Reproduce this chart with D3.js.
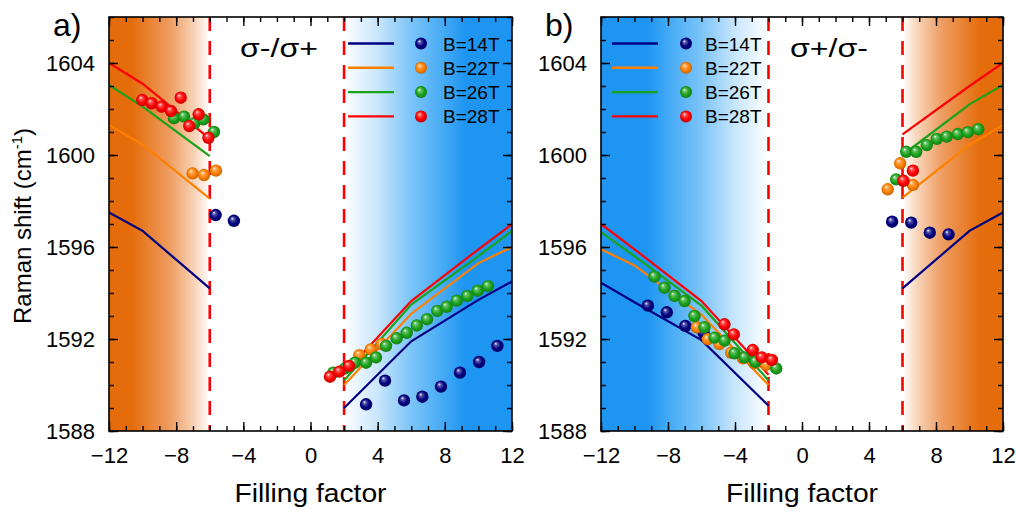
<!DOCTYPE html>
<html><head><meta charset="utf-8">
<script src="https://cdn.jsdelivr.net/npm/d3@7"></script>
<style>body{margin:0;background:#fff}svg{display:block}text{font-family:Arial,"Liberation Sans",sans-serif;fill:#000}</style>
</head><body>
<svg id="c" width="1017" height="513"></svg>
<script>
// ---------- data ----------
const series = ["B=14T","B=22T","B=26T","B=28T"];
const seriesColors = ["#000080","#FF8000","#1AA21A","#FF0000"];
const fillTicks = [-12,-8,-4,0,4,8,12];
const ramanTicks = [1588,1592,1596,1600,1604];

// panel a theory lines
const aNegX = [-12,-10,-6];
const aPosX = [2,6,10,12];
const aNeg14 = [1597.5,1596.7,1594.2];
const aNeg22 = [1601.3,1600.45,1598.1];
const aNeg26 = [1603.05,1602.1,1599.95];
const aNeg28 = [1604.0,1603.1,1600.7];
const aPos14 = [1589.0,1591.9,1593.7,1594.5];
const aPos22 = [1590.0,1593.1,1595.3,1596.0];
const aPos26 = [1590.2,1593.5,1595.6,1596.7];
const aPos28 = [1590.5,1593.65,1595.9,1597.0];

// panel b theory lines
const bNegX = [-12,-10,-6,-2];
const bPosX = [6,10,12];
const bNeg14 = [1594.45,1593.6,1591.95,1589.1];
const bNeg22 = [1595.9,1595.2,1593.05,1590.0];
const bNeg26 = [1596.65,1595.6,1593.45,1590.2];
const bNeg28 = [1597.0,1595.9,1593.65,1590.45];
const bPos14 = [1594.2,1596.7,1597.5];
const bPos22 = [1598.15,1600.45,1601.3];
const bPos26 = [1600.0,1602.2,1603.05];
const bPos28 = [1600.9,1603.0,1604.0];

// panel a measured points
const aFill14 = [-5.65,-4.56,3.31,4.44,5.57,6.66,7.77,8.9,10.04,11.13];
const aShift14 = [1597.39,1597.14,1589.16,1590.19,1589.33,1589.49,1589.93,1590.54,1591.0,1591.7];
const aFill22 = [-7.02,-6.34,-5.63,2.91,3.59,4.24];
const aShift22 = [1599.2,1599.13,1599.32,1591.3,1591.55,1591.78];
const aFill26 = [-8.13,-7.53,-6.92,-6.38,-5.75,1.36,2.06,2.65,3.31,3.9,4.5,5.13,5.73,6.33,6.94,7.55,8.11,8.71,9.34,9.96,10.57];
const aShift26 = [1601.6,1601.67,1601.38,1601.55,1601.0,1590.54,1590.72,1590.97,1590.97,1591.2,1591.7,1592.03,1592.27,1592.59,1592.86,1593.22,1593.4,1593.67,1593.87,1594.1,1594.3];
const aFill28 = [-10.02,-9.46,-8.86,-8.31,-7.73,-7.22,-6.66,-6.08,1.16,1.72,2.29];
const aShift28 = [1602.39,1602.25,1602.1,1601.91,1602.49,1601.26,1601.77,1600.75,1590.36,1590.58,1590.83];

// panel b measured points
const bFill14 = [-9.2,-8.07,-6.96,-5.88,5.38,6.52,7.63,8.75];
const bShift14 = [1593.45,1593.16,1592.57,1592.27,1597.1,1597.06,1596.62,1596.55];
const bFill22 = [-6.28,-5.62,-4.93,-4.23,-3.53,-2.84,-2.14,5.12,5.86,6.62];
const bShift22 = [1592.51,1591.99,1591.78,1591.4,1591.16,1590.94,1590.87,1598.51,1599.64,1598.7];
const bFill26 = [-8.81,-8.21,-7.61,-7.01,-6.42,-5.82,-5.22,-4.62,-4.03,-3.43,-2.79,-1.54,5.62,6.22,6.82,7.45,8.05,8.64,9.3,9.9,10.52];
const bShift26 = [1594.71,1594.23,1593.87,1593.65,1593.0,1592.51,1592.06,1591.93,1591.38,1591.2,1591.01,1590.72,1598.94,1600.14,1600.14,1600.43,1600.7,1600.8,1600.91,1600.99,1601.12];
const bFill28 = [-4.63,-4.07,-2.94,-2.4,-1.8,6.06,6.62];
const bShift28 = [1592.64,1592.2,1591.52,1591.2,1591.09,1598.88,1599.32];

// ---------- drawing ----------
const svg = d3.select("#c");
const defs = svg.append("defs");
const ORANGE = "#E46C0A", BLUE = "#1F95F2";

seriesColors.forEach((c,i)=>{
  const g = defs.append("radialGradient").attr("id","sph"+i)
    .attr("cx","50%").attr("cy","50%").attr("r","55%").attr("fx","35%").attr("fy","30%");
  const col = d3.color(c);
  g.append("stop").attr("offset","0%").attr("stop-color","#ffffff");
  g.append("stop").attr("offset","22%").attr("stop-color",d3.interpolateRgb(c,"#fff")(0.35));
  g.append("stop").attr("offset","60%").attr("stop-color",c);
  g.append("stop").attr("offset","100%").attr("stop-color",col.darker(0.9).toString());
});

function grad(id, stops){
  const g = defs.append("linearGradient").attr("id",id).attr("x1","0%").attr("x2","100%").attr("y1","0%").attr("y2","0%");
  stops.forEach(s=>g.append("stop").attr("offset",s[0]).attr("stop-color",s[1]));
}
const orangeToWhite = [[0,ORANGE],[0.22,ORANGE],[0.6,"#EE9C60"],[0.85,"#F8D4B8"],[1,"#FFFFFF"]];
const whiteToBlue = [[0,"#FFFFFF"],[0.2,"#C8E6FC"],[0.4,"#7CC4F8"],[0.6,"#42A9F4"],[0.72,BLUE],[1,BLUE]];
grad("gOrangeL", orangeToWhite);
grad("gBlueL", whiteToBlue);
grad("gBlueR", whiteToBlue.map(s=>[1-s[0],s[1]]).reverse());
grad("gOrangeR", orangeToWhite.map(s=>[1-s[0],s[1]]).reverse());

const panels = [
  {id:"a", label:"a)", left:109, right:512, sigma:"σ-/σ+", sigmaX:279,
   bands:[[-12,-6,"gOrangeL"],[2,12,"gBlueL"]], dashes:[-6,2],
   theory:[[aNegX,[aNeg14,aNeg22,aNeg26,aNeg28]],[aPosX,[aPos14,aPos22,aPos26,aPos28]]],
   fills:[aFill14,aFill22,aFill26,aFill28], shifts:[aShift14,aShift22,aShift26,aShift28],
   leg:{l1:348,l2:394,s:421,t:443}},
  {id:"b", label:"b)", left:601, right:1003, sigma:"σ+/σ-", sigmaX:829,
   bands:[[-12,-2,"gBlueR"],[6,12,"gOrangeR"]], dashes:[-2,6],
   theory:[[bNegX,[bNeg14,bNeg22,bNeg26,bNeg28]],[bPosX,[bPos14,bPos22,bPos26,bPos28]]],
   fills:[bFill14,bFill22,bFill26,bFill28], shifts:[bShift14,bShift22,bShift26,bShift28],
   leg:{l1:612,l2:658,s:686,t:705}}
];
const TOP = 17, BOTTOM = 431;

panels.forEach(p=>{
  const x = d3.scaleLinear().domain([-12,12]).range([p.left,p.right]);
  const y = d3.scaleLinear().domain([1588,1606]).range([BOTTOM,TOP]);
  const g = svg.append("g");
  defs.append("clipPath").attr("id","clip"+p.id).append("rect")
    .attr("x",p.left).attr("y",TOP).attr("width",p.right-p.left).attr("height",BOTTOM-TOP);

  p.bands.forEach(b=>{
    g.append("rect").attr("x",x(b[0])).attr("y",TOP).attr("width",x(b[1])-x(b[0])).attr("height",BOTTOM-TOP)
      .attr("fill","url(#"+b[2]+")");
  });

  const plot = g.append("g").attr("clip-path","url(#clip"+p.id+")");
  p.dashes.forEach(d=>{
    plot.append("line").attr("x1",x(d)).attr("x2",x(d)).attr("y1",TOP).attr("y2",BOTTOM)
      .attr("stroke","#FF0000").attr("stroke-width",2.6).attr("stroke-dasharray","14,10");
  });
  const line = d3.line().x(d=>x(d[0])).y(d=>y(d[1]));
  p.theory.forEach(seg=>{
    const xs = seg[0];
    seg[1].forEach((ys,i)=>{
      plot.append("path").attr("d",line(xs.map((v,k)=>[v,ys[k]])))
        .attr("fill","none").attr("stroke",seriesColors[i]).attr("stroke-width",2.2);
    });
  });
  p.fills.forEach((fs,i)=>{
    plot.selectAll(null).data(fs.map((v,k)=>[v,p.shifts[i][k]])).enter().append("circle")
      .attr("cx",d=>x(d[0])).attr("cy",d=>y(d[1])).attr("r",6.2).attr("fill","url(#sph"+i+")");
  });

  const fmt = d3.format("d");
  const axes = [
    [d3.axisBottom(x).tickValues(fillTicks).tickFormat(fmt).tickSize(-9).tickSizeOuter(0).tickPadding(16),`translate(0,${BOTTOM})`],
    [d3.axisBottom(x).tickValues(d3.range(-12,13,1)).tickFormat("").tickSize(-5).tickSizeOuter(0),`translate(0,${BOTTOM})`],
    [d3.axisTop(x).tickValues(fillTicks).tickFormat("").tickSize(-9).tickSizeOuter(0),`translate(0,${TOP})`],
    [d3.axisTop(x).tickValues(d3.range(-12,13,1)).tickFormat("").tickSize(-5).tickSizeOuter(0),`translate(0,${TOP})`],
    [d3.axisLeft(y).tickValues(ramanTicks).tickFormat(fmt).tickSize(-9).tickSizeOuter(0).tickPadding(14),`translate(${p.left},0)`],
    [d3.axisLeft(y).tickValues(d3.range(1588,1607,1)).tickFormat("").tickSize(-5).tickSizeOuter(0),`translate(${p.left},0)`],
    [d3.axisRight(y).tickValues(ramanTicks).tickFormat("").tickSize(-9).tickSizeOuter(0),`translate(${p.right},0)`],
    [d3.axisRight(y).tickValues(d3.range(1588,1607,1)).tickFormat("").tickSize(-5).tickSizeOuter(0),`translate(${p.right},0)`]
  ];
  axes.forEach(a=>{
    const ag = g.append("g").attr("transform",a[1]).call(a[0]);
    ag.select(".domain").remove();
    ag.selectAll("line").attr("stroke","#000").attr("stroke-width",1.4);
    ag.selectAll("text").style("font-size","22px").attr("font-family",null).attr("fill","#000");
  });
  g.append("rect").attr("x",p.left).attr("y",TOP).attr("width",p.right-p.left).attr("height",BOTTOM-TOP)
    .attr("fill","none").attr("stroke","#000").attr("stroke-width",1.6);

  series.forEach((s,i)=>{
    const ly = 43.5 + i*24.3;
    g.append("line").attr("x1",p.leg.l1).attr("x2",p.leg.l2).attr("y1",ly).attr("y2",ly)
      .attr("stroke",seriesColors[i]).attr("stroke-width",2.4);
    g.append("circle").attr("cx",p.leg.s).attr("cy",ly).attr("r",6).attr("fill","url(#sph"+i+")");
    g.append("text").attr("x",p.leg.t).attr("y",ly+7).style("font-size","19px").text(s);
  });

  g.append("text").attr("x",p.sigmaX).attr("y",57).attr("text-anchor","middle")
    .style("font-size","26px").attr("textLength",78).attr("lengthAdjust","spacingAndGlyphs").text(p.sigma);

  g.append("text").attr("x",(p.left+p.right)/2).attr("y",502).attr("text-anchor","middle")
    .style("font-size","26px").attr("textLength",152).attr("lengthAdjust","spacingAndGlyphs").text("Filling factor");

  g.append("text").attr("x",p.left-56).attr("y",36).style("font-size","32px").text(p.label);
});

const yt = svg.append("text").attr("transform","translate(31,226) rotate(-90)").attr("text-anchor","middle")
  .style("font-size","24px");
yt.append("tspan").text("Raman shift (cm");
yt.append("tspan").attr("dy","-9").style("font-size","15px").text("-1");
yt.append("tspan").attr("dy","9").text(")");
</script>
</body></html>
